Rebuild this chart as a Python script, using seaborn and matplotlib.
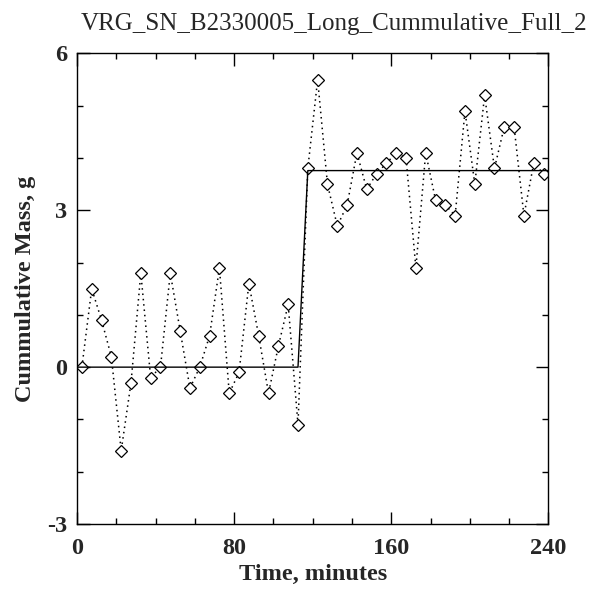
import numpy as np
import pandas as pd
import matplotlib
matplotlib.use("Agg")
import matplotlib.pyplot as plt
import seaborn as sns
from matplotlib.ticker import MultipleLocator

# valores
time_min = [2.5, 7.5, 12.5, 17.5, 22.5, 27.5, 32.5, 37.5, 42.5, 47.5,
            52.5, 57.5, 62.5, 67.5, 72.5, 77.5, 82.5, 87.5, 92.5, 97.5,
            102.5, 107.5, 112.5, 117.5, 122.5, 127.5, 132.5, 137.5, 142.5, 147.5,
            152.5, 157.5, 162.5, 167.5, 172.5, 177.5, 182.5, 187.5, 192.5, 197.5,
            202.5, 207.5, 212.5, 217.5, 222.5, 227.5, 232.5, 237.5]
mass_g = [0.0, 1.5, 0.9, 0.2, -1.6, -0.3, 1.8, -0.2, 0.0, 1.8,
          0.7, -0.4, 0.0, 0.6, 1.9, -0.5, -0.1, 1.6, 0.6, -0.5,
          0.4, 1.2, -1.1, 3.8, 5.5, 3.5, 2.7, 3.1, 4.1, 3.4,
          3.7, 3.9, 4.1, 4.0, 1.9, 4.1, 3.2, 3.1, 2.9, 4.9,
          3.5, 5.2, 3.8, 4.6, 4.6, 2.9, 3.9, 3.7]

# ajuste em degrau
step_time = [0, 112.5, 117.5, 240]
step_mass = [0.0, 0.0, 3.76, 3.76]

df = pd.DataFrame({'time': time_min, 'mass': mass_g})
df_step = pd.DataFrame({'time': step_time, 'mass': step_mass})

sns.set_style("ticks")
plt.rcParams['font.family'] = ['Liberation Serif', 'DejaVu Serif']
plt.rcParams['axes.unicode_minus'] = False

fig = plt.figure(figsize=(5.89, 5.93), dpi=100)
ax = fig.add_axes([0.1307, 0.1164, 0.8005, 0.7934])

sns.lineplot(data=df, x='time', y='mass', ax=ax, sort=False, color='black',
             linestyle=(0, (1, 2.5)), linewidth=1.1, marker='D', markersize=6,
             markerfacecolor='white', markeredgecolor='black', markeredgewidth=0.9)
sns.lineplot(data=df_step, x='time', y='mass', ax=ax, sort=False,
             color='black', linewidth=1.0)

ax.set_xlim(0, 240)
ax.set_ylim(-3, 6)
ax.xaxis.set_major_locator(MultipleLocator(80))
ax.xaxis.set_minor_locator(MultipleLocator(20))
ax.yaxis.set_major_locator(MultipleLocator(3))
ax.yaxis.set_minor_locator(MultipleLocator(1))
ax.tick_params(which='both', direction='in', top=True, right=True, color='black', width=1.0)
ax.tick_params(which='major', length=9, labelsize=17.5)
ax.tick_params(axis='x', which='major', pad=10)
ax.tick_params(axis='y', which='major', pad=7)
ax.tick_params(which='minor', length=4.5)
for lab in ax.get_xticklabels() + ax.get_yticklabels():
    lab.set_fontweight('bold')
for sp in ax.spines.values():
    sp.set_color('black')
    sp.set_linewidth(1.0)

ax.set_xlabel('Time, minutes', fontsize=17.5, fontweight='bold', labelpad=4)
ax.set_ylabel('Cummulative Mass, g', fontsize=17.5, fontweight='bold', labelpad=8)
ax.set_title('VRG_SN_B2330005_Long_Cummulative_Full_2', fontsize=18, pad=17, x=0.545)

fig.savefig('out.png', dpi=100)
